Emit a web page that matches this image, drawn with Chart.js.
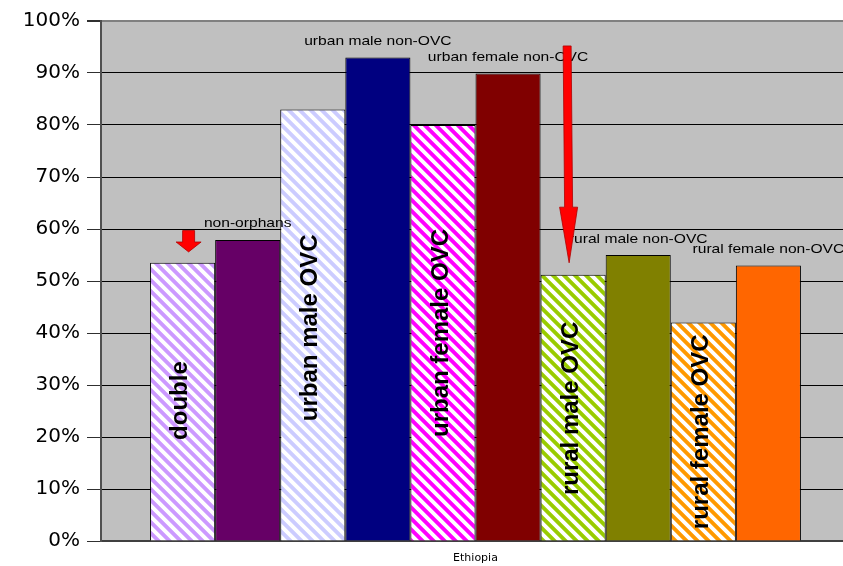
<!DOCTYPE html>
<html>
<head>
<meta charset="utf-8">
<script src="https://cdn.jsdelivr.net/npm/chart.js@4/dist/chart.umd.min.js"></script>
<style>
  html, body { margin: 0; padding: 0; background: #fff; overflow: hidden; }
  #wrap { width: 850px; height: 566px; }
</style>
</head>
<body>
<div id="wrap"><canvas id="chart" width="850" height="566"></canvas></div>
<script>
// ---- data -------------------------------------------------------------
const categories = ['Ethiopia'];
const groups = [
  'double', 'non-orphans',
  'urban male OVC', 'urban male non-OVC',
  'urban female OVC', 'urban female non-OVC',
  'rural male OVC', 'rural male non-OVC',
  'rural female OVC', 'rural female non-OVC'
];
const values = [53.5, 57.9, 83.0, 93.0, 80.0, 89.9, 51.2, 55.0, 42.0, 53.0];
const yTickValues = [0, 10, 20, 30, 40, 50, 60, 70, 80, 90, 100];

// ---- styling ----------------------------------------------------------
const colors = ['#CC99FF', '#660066', '#CCCCFF', '#000080', '#FF00FF',
                '#800000', '#99CC00', '#808000', '#FF9900', '#FF6600'];
const hatched = [true, false, true, false, true, false, true, false, true, false];
// where along the bar (in axis units) the rotated names sit
const innerLabelCenter = { 0: 27, 2: 41, 4: 40, 6: 25.5, 8: 21 };

function stripes(hex, period) {
  const c = document.createElement('canvas');
  c.width = period; c.height = period;
  const g = c.getContext('2d');
  const img = g.createImageData(period, period);
  const r = parseInt(hex.slice(1, 3), 16), gg = parseInt(hex.slice(3, 5), 16), b = parseInt(hex.slice(5, 7), 16);
  const S = 4;
  for (let y = 0; y < period; y++) {
    for (let x = 0; x < period; x++) {
      let hit = 0;
      for (let sy = 0; sy < S; sy++) for (let sx = 0; sx < S; sx++) {
        const xs = x + (sx + 0.5) / S, ys = y + (sy + 0.5) / S;
        const t = (((xs - ys) % period) + period) % period;
        if (t < period / 2) hit++;
      }
      const a = hit / (S * S);
      const i = (y * period + x) * 4;
      img.data[i] = Math.round(255 * (1 - a) + r * a);
      img.data[i + 1] = Math.round(255 * (1 - a) + gg * a);
      img.data[i + 2] = Math.round(255 * (1 - a) + b * a);
      img.data[i + 3] = 255;
    }
  }
  g.putImageData(img, 0, 0);
  return g.createPattern(c, 'repeat');
}

const datasets = groups.map((name, i) => ({
  label: name,
  data: [values[i]],
  backgroundColor: hatched[i] ? stripes(colors[i], 11) : colors[i],
  borderColor: '#000000',
  borderWidth: 1,
  barPercentage: 1.0,
  categoryPercentage: 0.869
}));

// gray plot background
const plotBackground = {
  id: 'plotBackground',
  beforeDraw(chart) {
    const { ctx, chartArea: a } = chart;
    ctx.save();
    ctx.fillStyle = '#ffffff';
    ctx.fillRect(0, 0, chart.width, chart.height);
    ctx.fillStyle = '#C0C0C0';
    ctx.fillRect(a.left, a.top, a.right - a.left, a.bottom - a.top);
    ctx.restore();
  }
};

function drawArrow(ctx, xTop, yTop, xTip, yTip, yHead, shaftW, headW) {
  const xHead = xTop + (xTip - xTop) * (yHead - yTop) / (yTip - yTop);
  ctx.beginPath();
  ctx.moveTo(xTop - shaftW / 2, yTop);
  ctx.lineTo(xTop + shaftW / 2, yTop);
  ctx.lineTo(xHead + shaftW / 2, yHead);
  ctx.lineTo(xHead + headW / 2, yHead);
  ctx.lineTo(xTip, yTip);
  ctx.lineTo(xHead - headW / 2, yHead);
  ctx.lineTo(xHead - shaftW / 2, yHead);
  ctx.closePath();
  ctx.fillStyle = '#FF0000';
  ctx.fill();
  ctx.lineWidth = 0.8;
  ctx.strokeStyle = '#B00000';
  ctx.stroke();
}

// group names on and above the bars, plus the red pointers
const barNotes = {
  id: 'barNotes',
  afterDatasetsDraw(chart) {
    const { ctx } = chart;
    const y = chart.scales.y;
    ctx.save();
    ctx.fillStyle = '#000';
    chart.data.datasets.forEach((ds, i) => {
      const bar = chart.getDatasetMeta(i).data[0];
      if (!bar) return;
      if (i in innerLabelCenter) {
        ctx.save();
        ctx.translate(bar.x - 2, y.getPixelForValue(innerLabelCenter[i]));
        ctx.rotate(-Math.PI / 2);
        ctx.font = 'bold 24px "Liberation Sans", Arial, sans-serif';
        ctx.textAlign = 'center';
        ctx.textBaseline = 'middle';
        ctx.fillText(ds.label, 0, 0);
        ctx.restore();
      } else {
        ctx.save();
        ctx.translate(bar.x, bar.y - 16);
        ctx.scale(1.2, 1);
        ctx.font = '13px "Liberation Sans", Arial, sans-serif';
        ctx.textAlign = 'center';
        ctx.textBaseline = 'middle';
        ctx.fillText(ds.label, 0, 0);
        ctx.restore();
      }
    });
    const b0 = chart.getDatasetMeta(0).data[0];
    const b6 = chart.getDatasetMeta(6).data[0];
    drawArrow(ctx, b0.x + 6, y.getPixelForValue(59.7), b0.x + 6, y.getPixelForValue(55.6),
              y.getPixelForValue(57.5), 12, 25);
    drawArrow(ctx, b6.x - 6, y.getPixelForValue(95.2), b6.x - 4, y.getPixelForValue(53.5),
              y.getPixelForValue(64.2), 8, 18);
    ctx.restore();
  }
};

new Chart(document.getElementById('chart'), {
  type: 'bar',
  data: { labels: categories, datasets },
  options: {
    responsive: false,
    animation: false,
    devicePixelRatio: 1,
    layout: { padding: { top: 21, right: 0, left: 0, bottom: 0 } },
    plugins: { legend: { display: false }, tooltip: { enabled: false } },
    scales: {
      x: {
        grid: { display: false, drawTicks: false },
        border: { display: true, color: '#404040', width: 2 },
        ticks: {
          color: '#000',
          padding: 11,
          font: { family: '"DejaVu Sans", sans-serif', size: 11 }
        },
        afterFit(scale) { scale.height = 25; }
      },
      y: {
        min: 0,
        max: 100,
        afterBuildTicks(scale) { scale.ticks = yTickValues.map(v => ({ value: v })); },
        ticks: {
          color: '#000',
          padding: 7,
          font: { family: '"DejaVu Sans", sans-serif', size: 20 },
          callback: v => v + '%'
        },
        grid: {
          color: c => (c.tick && c.tick.value === 100) ? '#808080' : '#000000',
          tickColor: '#303030',
          lineWidth: c => (c.tick && c.tick.value === 100) ? 2 : 1,
          tickLength: 14
        },
        border: { display: true, color: '#505050', width: 2 },
        afterFit(scale) { scale.width = 101; }
      }
    }
  },
  plugins: [plotBackground, barNotes]
});
</script>
</body>
</html>
